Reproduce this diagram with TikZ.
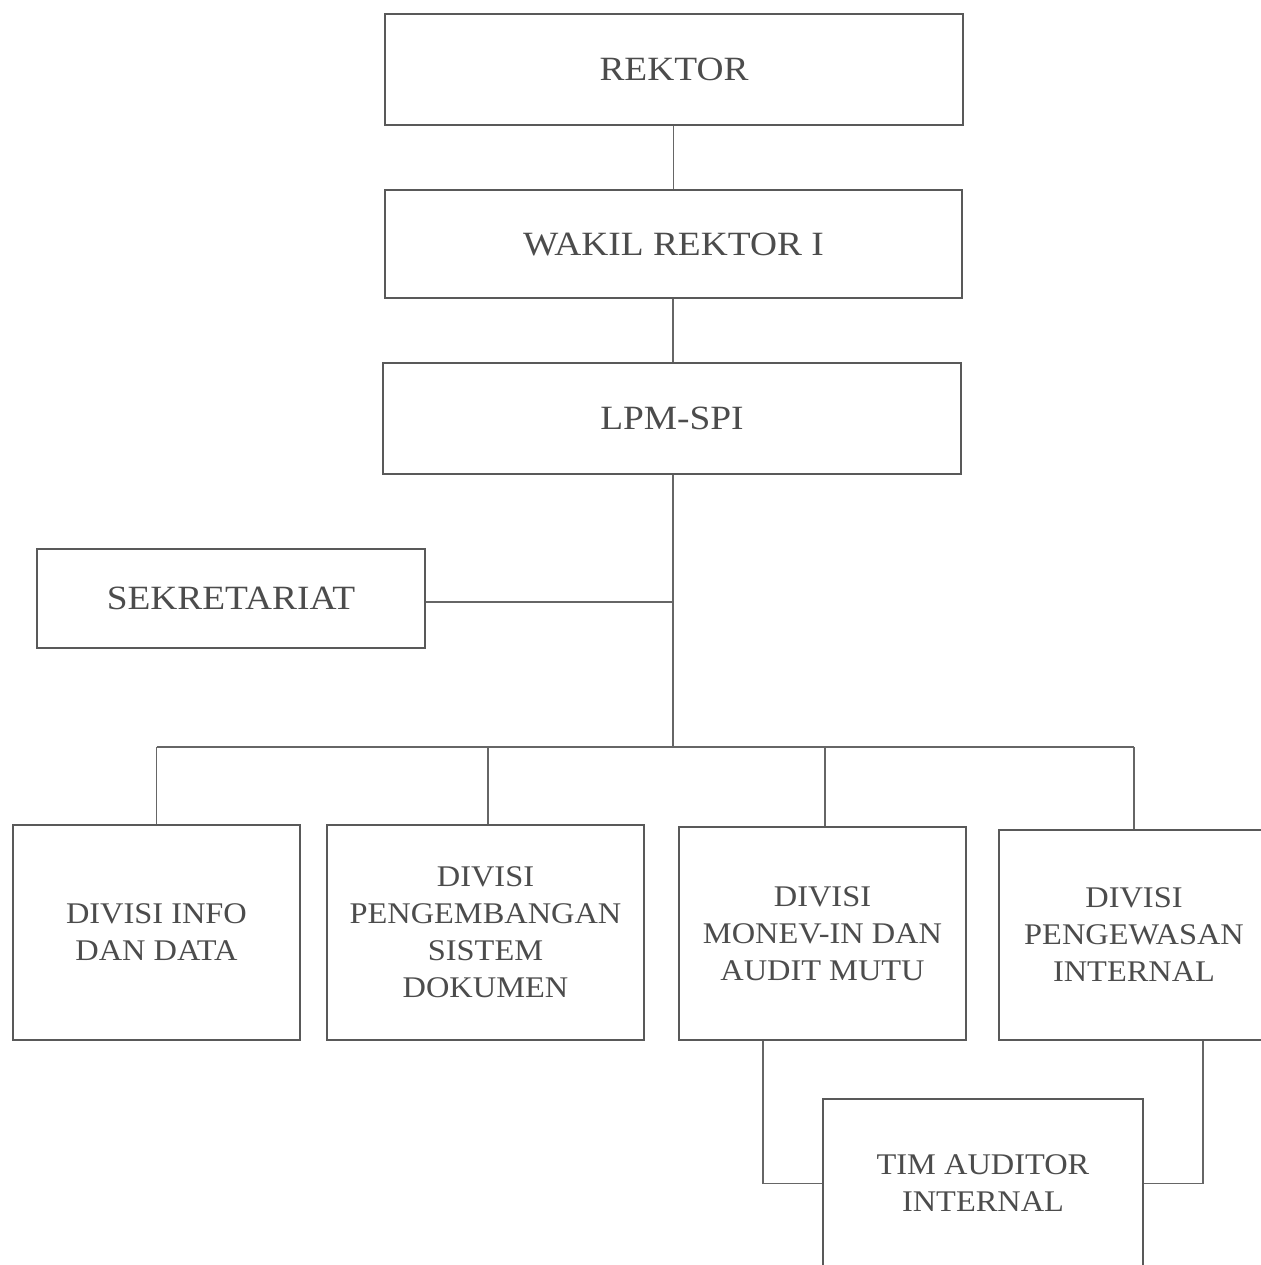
\documentclass[tikz,border=0pt]{standalone}
\usepackage{fontspec}
\setmainfont{Liberation Serif}[FakeStretch=1.08]
\newfontfamily\topfont{Liberation Serif}[FakeStretch=1.1]
\begin{document}
\begin{tikzpicture}[x=0.5pt,y=-0.5pt,
  box/.style={draw=black!65, line width=1.2pt, fill=none, text=black!70, align=center, inner sep=0pt},
  topbox/.style={box, font=\topfont\fontsize{17}{20}\selectfont},
  divbox/.style={box, font=\fontsize{15}{18.5}\selectfont},
  link/.style={draw=black!60, line width=0.8pt}]
\useasboundingbox[fill=white] (0,0) rectangle (1261,1265);
\node[topbox, minimum width=289pt, minimum height=55.5pt] (rek) at (674,69.5) {REKTOR};
\node[topbox, minimum width=288.5pt, minimum height=54pt] (wak) at (673.5,244) {WAKIL REKTOR I};
\node[topbox, minimum width=289pt, minimum height=55.5pt] (lpm) at (672,418.5) {LPM-SPI};
\node[topbox, minimum width=194pt, minimum height=49.5pt] (sek) at (231,598.5) {SEKRETARIAT};
\node[divbox, minimum width=143.5pt, minimum height=107.5pt] (info) at (156.5,932.5) {DIVISI INFO\\DAN DATA};
\node[divbox, minimum width=158.5pt, minimum height=107.5pt] (peng) at (485.5,932.5) {DIVISI\\PENGEMBANGAN\\SISTEM\\DOKUMEN};
\node[divbox, minimum width=143.5pt, minimum height=106.5pt] (monev) at (822.5,933.5) {DIVISI\\MONEV-IN DAN\\AUDIT MUTU};
\node[divbox, minimum width=135pt, minimum height=105pt] (pengw) at (1134,935) {DIVISI\\PENGEWASAN\\INTERNAL};
\node[divbox, minimum width=160pt, minimum height=84.5pt] (tim) at (983,1183.5) {TIM AUDITOR\\INTERNAL};
\coordinate (bus) at (673,747);
\draw[link] (wak.north |- rek.south) -- (wak.north);
\draw[link] ([xshift=-0.25pt]wak.south) -- ([xshift=-0.25pt]wak.south |- lpm.north);
\draw[link] ([xshift=0.5pt]lpm.south) -- ([xshift=0.5pt]lpm.south |- bus);
\draw[link] ([yshift=-1.75pt]sek.east) -- ([yshift=-1.75pt,xshift=0.5pt]sek.east -| lpm.south);
\draw[link] (info.north |- bus) -- (pengw.north |- bus);
\draw[link] (info.north |- bus) -- (info.north);
\draw[link] ([xshift=1.2pt]peng.north |- bus) -- ([xshift=1.2pt]peng.north);
\draw[link] ([xshift=1.2pt]monev.north |- bus) -- ([xshift=1.2pt]monev.north);
\draw[link] (pengw.north |- bus) -- (pengw.north);
\draw[link] ([xshift=-29.75pt]monev.south) |- (tim.west);
\draw[link] ([xshift=34.5pt]pengw.south) |- (tim.east);
\end{tikzpicture}
\end{document}
